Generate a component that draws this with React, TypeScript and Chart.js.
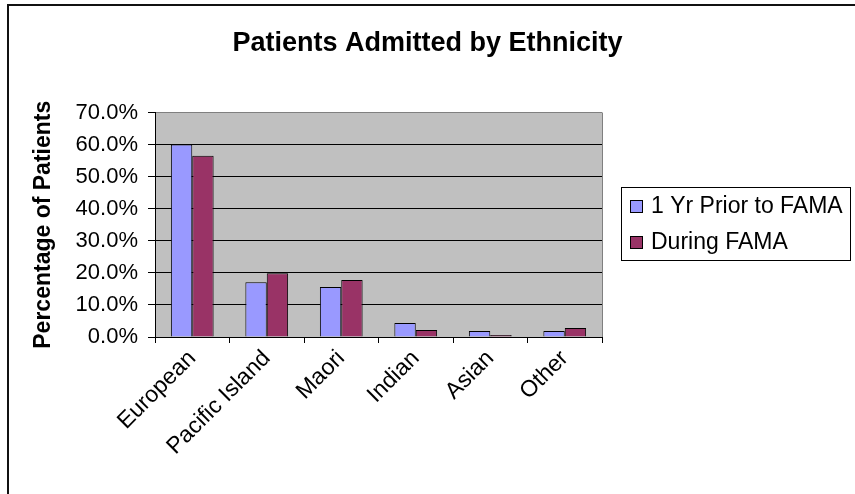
import React, { useEffect, useRef } from "react";
import { Chart, registerables } from "chart.js";

Chart.register(...registerables);

const categories = ["European", "Pacific Island", "Maori", "Indian", "Asian", "Other"];
const priorYear = [60.0, 17.1, 15.6, 4.4, 1.9, 1.9];
const duringFama = [56.5, 19.9, 17.8, 2.2, 0.6, 2.8];
const seriesNames = ["1 Yr Prior to FAMA", "During FAMA"];
const seriesColors = ["#9999FF", "#993366"];
const chartTitle = "Patients Admitted by Ethnicity";
const yAxisTitle = "Percentage of Patients";

const FONT = "'Liberation Sans', Arial, sans-serif";

const decorPlugin = {
  id: "excelDecor",
  beforeDraw(chart: any) {
    const { ctx, chartArea, width, height } = chart;
    ctx.save();
    ctx.fillStyle = "#FFFFFF";
    ctx.fillRect(0, 0, width, height);
    ctx.fillStyle = "#C0C0C0";
    ctx.fillRect(chartArea.left, chartArea.top, chartArea.right - chartArea.left, chartArea.bottom - chartArea.top);
    ctx.restore();
  },
  afterDraw(chart: any) {
    const { ctx, chartArea, width, height } = chart;
    ctx.save();
    // plot area right border
    ctx.strokeStyle = "#808080";
    ctx.lineWidth = 1;
    ctx.beginPath();
    ctx.moveTo(Math.round(chartArea.right) + 0.5, chartArea.top);
    ctx.lineTo(Math.round(chartArea.right) + 0.5, chartArea.bottom);
    ctx.stroke();
    // outer chart border (cropped)
    ctx.strokeStyle = "#111";
    ctx.lineWidth = 2;
    ctx.beginPath();
    ctx.moveTo(8, height);
    ctx.lineTo(8, 5);
    ctx.lineTo(width, 5);
    ctx.stroke();
    // title, centred on the whole chart
    ctx.fillStyle = "#000";
    ctx.font = "bold 27px " + FONT;
    ctx.textAlign = "center";
    ctx.textBaseline = "middle";
    ctx.fillText(chartTitle, width / 2, 44);
    // legend
    const lx = 621.5, ly = 187.5, lw = 229, lh = 73;
    ctx.fillStyle = "#FFFFFF";
    ctx.fillRect(lx, ly, lw, lh);
    ctx.strokeStyle = "#000";
    ctx.lineWidth = 1;
    ctx.strokeRect(lx, ly, lw, lh);
    ctx.font = "23px " + FONT;
    ctx.textBaseline = "middle";
    ctx.textAlign = "left";
    chart.data.datasets.forEach((ds: any, i: number) => {
      const cy = 207 + i * 36;
      ctx.fillStyle = ds.backgroundColor;
      ctx.fillRect(631, cy - 6, 11, 11);
      ctx.strokeStyle = "#000";
      ctx.strokeRect(630.5, cy - 6.5, 12, 12);
      ctx.fillStyle = "#000";
      ctx.fillText(ds.label, 651, cy);
    });
    ctx.restore();
  },
};

export default function App() {
  const ref = useRef<HTMLCanvasElement | null>(null);

  useEffect(() => {
    if (!ref.current) return;
    const chart = new Chart(ref.current, {
      type: "bar",
      data: {
        labels: categories,
        datasets: [
          {
            label: seriesNames[0],
            data: priorYear,
            backgroundColor: seriesColors[0],
            borderColor: "#000",
            borderWidth: 1,
            categoryPercentage: 0.574,
            barPercentage: 1.0,
          },
          {
            label: seriesNames[1],
            data: duringFama,
            backgroundColor: seriesColors[1],
            borderColor: "#000",
            borderWidth: 1,
            categoryPercentage: 0.574,
            barPercentage: 1.0,
          },
        ],
      },
      options: {
        responsive: false,
        animation: false,
        layout: { padding: { left: 0, right: 253, top: 112.5, bottom: 0 } },
        plugins: {
          legend: { display: false },
          tooltip: { enabled: false },
          title: { display: false },
        },
        scales: {
          x: {
            afterFit: (scale: any) => {
              scale.height = 157;
            },
            grid: {
              display: true,
              drawOnChartArea: false,
              drawTicks: true,
              tickLength: 6,
              color: "#000",
              offset: true,
            },
            border: { display: true, color: "#000", width: 1 },
            ticks: {
              autoSkip: false,
              minRotation: 45,
              maxRotation: 45,
              color: "#000",
              padding: 2,
              font: { family: FONT, size: 23 },
            },
          },
          y: {
            min: 0,
            max: 70,
            afterFit: (scale: any) => {
              scale.width = 155;
            },
            grid: {
              color: (c: any) => (c.tick && c.tick.value === 70 ? "#808080" : "#000"),
              tickColor: "#000",
              tickLength: 7,
              drawTicks: true,
              lineWidth: 1,
            },
            border: { display: true, color: "#000", width: 1 },
            ticks: {
              stepSize: 10,
              color: "#000",
              padding: 10,
              font: { family: FONT, size: 22 },
              callback: (v: any) => Number(v).toFixed(1) + "%",
            },
            title: {
              display: true,
              text: yAxisTitle,
              color: "#000",
              font: { family: FONT, size: 23, weight: "bold" },
              padding: { top: 30, bottom: 0 },
            },
          },
        },
      },
      plugins: [decorPlugin],
    } as any);
    return () => chart.destroy();
  }, []);

  return (
    <div style={{ position: "fixed", left: 0, top: 0, width: 855, height: 494, background: "#fff" }}>
      <canvas ref={ref} width={855} height={494} style={{ display: "block" }} />
    </div>
  );
}
